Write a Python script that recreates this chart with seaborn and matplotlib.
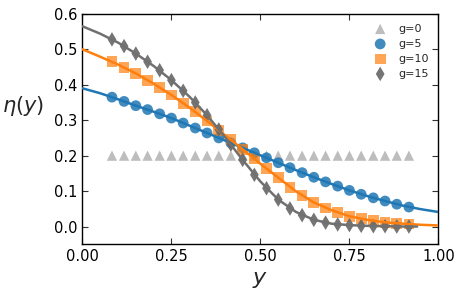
import numpy as np
import pandas as pd
import matplotlib
matplotlib.use("Agg")
import matplotlib.pyplot as plt
import seaborn as sns

# marker positions
y_pts = [0.083, 0.117, 0.150, 0.183, 0.217, 0.250, 0.283, 0.317, 0.350, 0.383,
         0.417, 0.450, 0.483, 0.517, 0.550, 0.583, 0.617, 0.650, 0.683, 0.717,
         0.750, 0.783, 0.817, 0.850, 0.883, 0.917]
eta_g0 = [0.200] * 26
eta_g5 = [0.365, 0.353, 0.341, 0.330, 0.318, 0.306, 0.292, 0.278, 0.264, 0.250,
          0.236, 0.222, 0.208, 0.194, 0.180, 0.166, 0.152, 0.139, 0.126, 0.114,
          0.102, 0.091, 0.081, 0.072, 0.063, 0.055]
eta_g10 = [0.465, 0.449, 0.432, 0.413, 0.393, 0.371, 0.348, 0.324, 0.298, 0.272,
           0.245, 0.218, 0.191, 0.164, 0.138, 0.111, 0.087, 0.068, 0.052, 0.040,
           0.029, 0.022, 0.016, 0.012, 0.009, 0.007]
eta_g15 = [0.528, 0.509, 0.488, 0.465, 0.441, 0.413, 0.383, 0.350, 0.314, 0.274,
           0.231, 0.188, 0.146, 0.108, 0.076, 0.051, 0.032, 0.019, 0.011, 0.006,
           0.004, 0.002, 0.001, 0.001, 0.000, 0.000]

# fitted curves
y_line = [0.00, 0.05, 0.10, 0.15, 0.20, 0.25, 0.30, 0.35, 0.40, 0.45, 0.50,
          0.55, 0.60, 0.65, 0.70, 0.75, 0.80, 0.85, 0.90, 0.95, 1.00]
line_g5 = [0.390, 0.376, 0.359, 0.341, 0.324, 0.306, 0.285, 0.264, 0.243, 0.222, 0.201,
           0.180, 0.159, 0.139, 0.120, 0.102, 0.086, 0.072, 0.059, 0.049, 0.041]
line_g10 = [0.500, 0.479, 0.457, 0.432, 0.403, 0.371, 0.336, 0.298, 0.258, 0.218, 0.177,
            0.138, 0.099, 0.068, 0.046, 0.029, 0.019, 0.012, 0.008, 0.005, 0.003]
y_line15 = [0.00, 0.05, 0.10, 0.15, 0.20, 0.25, 0.30, 0.35, 0.40, 0.45, 0.50,
            0.55, 0.60, 0.65, 0.70, 0.75, 0.80, 0.85, 0.90, 0.94]
line_g15 = [0.565, 0.544, 0.519, 0.488, 0.453, 0.413, 0.367, 0.314, 0.253, 0.188, 0.127,
            0.076, 0.041, 0.019, 0.008, 0.004, 0.002, 0.001, 0.000, 0.000]

labels = ["g=0", "g=5", "g=10", "g=15"]

sns.set_style("ticks")
plt.rcParams['font.family'] = ['DejaVu Sans']

fig = plt.figure(figsize=(4.63, 2.95), dpi=100)
ax = fig.add_axes([0.178, 0.172, 0.769, 0.781])

sns.scatterplot(x=y_pts, y=eta_g0, ax=ax, marker="^", s=55, color="#bdbdbd",
                edgecolor="none", label=labels[0], zorder=2)
sns.scatterplot(x=y_pts, y=eta_g5, ax=ax, marker="o", s=60, color="#1f77b4",
                alpha=0.85, edgecolor="none", label=labels[1], zorder=2)
sns.scatterplot(x=y_pts, y=eta_g10, ax=ax, marker="s", s=60, color="#ff7f0e",
                alpha=0.7, edgecolor="none", label=labels[2], zorder=2)
sns.scatterplot(x=y_pts, y=eta_g15, ax=ax, marker="d", s=55, color="#666666",
                alpha=0.9, edgecolor="none", label=labels[3], zorder=2)

sns.lineplot(x=y_line, y=line_g5, ax=ax, color="#1f77b4", lw=1.8, zorder=3)
sns.lineplot(x=y_line, y=line_g10, ax=ax, color="#ff7f0e", lw=1.8, zorder=3)
sns.lineplot(x=y_line15, y=line_g15, ax=ax, color="#707070", lw=1.8, zorder=3)

ax.set_xlim(0, 1.0)
ax.set_ylim(-0.05, 0.6)
ax.set_xticks([0.0, 0.25, 0.5, 0.75, 1.0])
ax.set_xticklabels(["0.00", "0.25", "0.50", "0.75", "1.00"])
ax.set_yticks([0.0, 0.1, 0.2, 0.3, 0.4, 0.5, 0.6])
ax.set_yticklabels(["0.0", "0.1", "0.2", "0.3", "0.4", "0.5", "0.6"])
ax.tick_params(direction="in", top=True, right=True, labelsize=10.5,
               length=4, width=0.8, colors="#333333", labelcolor="black")
for sp in ax.spines.values():
    sp.set_visible(True)
    sp.set_color("black")
    sp.set_linewidth(1.0)

ax.set_xlabel("$y$", fontsize=16)
ax.set_ylabel(r"$\eta(y)$", fontsize=15, rotation=0, ha="center", va="center")
ax.yaxis.set_label_coords(-0.167, 0.6)

leg = ax.legend(loc="upper right", frameon=False, fontsize=8, handletextpad=0.6,
                labelspacing=0.45)

fig.savefig("out.png", dpi=100)
